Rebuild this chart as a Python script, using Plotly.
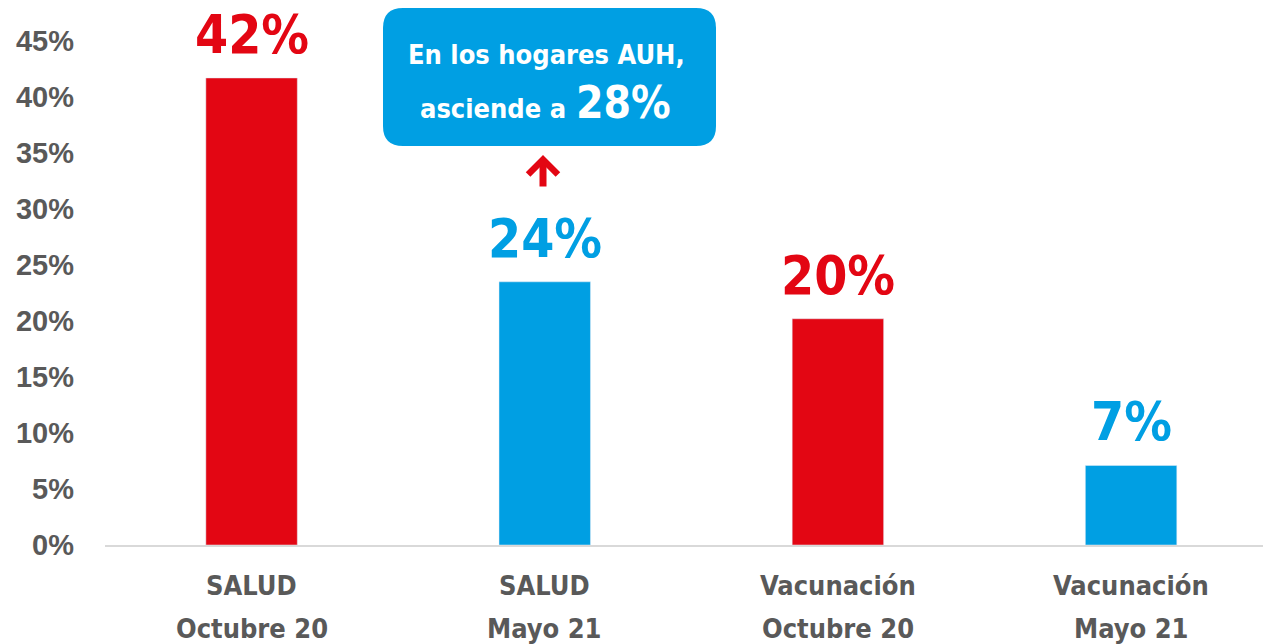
import plotly.graph_objects as go

cat_line1 = ["SALUD", "SALUD", "Vacunación", "Vacunación"]
cat_line2 = ["Octubre 20", "Mayo 21", "Octubre 20", "Mayo 21"]
values = [41.7, 23.5, 20.2, 7.1]
value_labels = ["42%", "24%", "20%", "7%"]
colors = ["#E30613", "#009FE3", "#E30613", "#009FE3"]
tick_vals = [0, 5, 10, 15, 20, 25, 30, 35, 40, 45]
tick_text = [f"{v}%" for v in tick_vals]
callout_line1 = "En los hogares AUH,"
callout_line2 = "asciende a"
callout_value = "28%"

W, H = 1263, 644
L, R, T, B = 105, 0, 0, 99
PW, PH = W - L - R, H - T - B

def px(x):
    return (x - L) / PW

def py(y):
    return (H - B - y) / PH

NARROW = "DejaVu Sans Condensed, Liberation Sans Narrow, Arial Narrow, sans-serif"
GRAY = "#595959"

fig = go.Figure()
fig.add_trace(go.Bar(
    x=list(range(len(values))), y=values, marker_color=colors, width=0.312,
    hoverinfo="skip",
))

for i, (v, lab, c) in enumerate(zip(values, value_labels, colors)):
    fig.add_annotation(x=i, y=v, text=f"<b>{lab}</b>", showarrow=False, yanchor="bottom",
                       xanchor="center", yshift=11, font=dict(family=NARROW, size=53, color=c))

for i, (a, b) in enumerate(zip(cat_line1, cat_line2)):
    fig.add_annotation(x=i, xref="x", y=py(585), yref="paper", text=f"<b>{a}</b>",
                       showarrow=False, xanchor="center", yanchor="middle",
                       font=dict(family=NARROW, size=27, color=GRAY))
    fig.add_annotation(x=i, xref="x", y=py(628), yref="paper", text=f"<b>{b}</b>",
                       showarrow=False, xanchor="center", yanchor="middle",
                       font=dict(family=NARROW, size=27, color=GRAY))

# rounded callout box
x0, x1, y0, y1, r = px(383), px(716), py(146), py(8), 20
rx, ry = r / PW, r / PH
path = (f"M {x0+rx},{y1} L {x1-rx},{y1} Q {x1},{y1} {x1},{y1-ry} "
        f"L {x1},{y0+ry} Q {x1},{y0} {x1-rx},{y0} L {x0+rx},{y0} "
        f"Q {x0},{y0} {x0},{y0+ry} L {x0},{y1-ry} Q {x0},{y1} {x0+rx},{y1} Z")
fig.add_shape(type="path", path=path, xref="paper", yref="paper",
              fillcolor="#009FE3", line=dict(width=0), layer="above")
fig.add_annotation(x=px(546), y=py(54), xref="paper", yref="paper", showarrow=False,
                   xanchor="center", yanchor="middle",
                   text=f"<b>{callout_line1}</b>", font=dict(family=NARROW, size=27, color="white"))
fig.add_annotation(x=px(568), y=py(109), xref="paper", yref="paper", showarrow=False,
                   xanchor="right", yanchor="middle",
                   text=f"<b>{callout_line2}</b>", font=dict(family=NARROW, size=27, color="white"))
fig.add_annotation(x=px(574), y=py(103), xref="paper", yref="paper", showarrow=False,
                   xanchor="left", yanchor="middle",
                   text=f"<b>{callout_value}</b>", font=dict(family=NARROW, size=44, color="white"))
# red arrow
fig.add_annotation(x=px(543), y=py(155), xref="paper", yref="paper", text="",
                   showarrow=True, axref="pixel", ayref="pixel", ax=0, ay=33,
                   arrowcolor="#E30613", arrowwidth=7, arrowhead=4, arrowsize=0.82)

fig.update_layout(
    width=W, height=H, margin=dict(l=L, r=R, t=T, b=B),
    paper_bgcolor="white", plot_bgcolor="white", showlegend=False,
    xaxis=dict(range=[-0.5, 3.45], tickvals=list(range(len(values))), showticklabels=False,
               showline=True, linecolor="#D9D9D9", linewidth=2, showgrid=False,
               ticks="", zeroline=False, fixedrange=True),
    yaxis=dict(range=[0, (H - B - T) / 11.2], tickvals=tick_vals,
               ticktext=[f"<b>{t}</b>" for t in tick_text],
               tickfont=dict(family="Liberation Sans, Arial, sans-serif", size=29, color=GRAY),
               showgrid=False, zeroline=False, showline=False, ticks="",
               ticklabelstandoff=30, fixedrange=True),
)
fig.write_html("out.html", config={"displayModeBar": False},
               post_script="document.body.style.margin='0';document.body.style.overflow='hidden';")
